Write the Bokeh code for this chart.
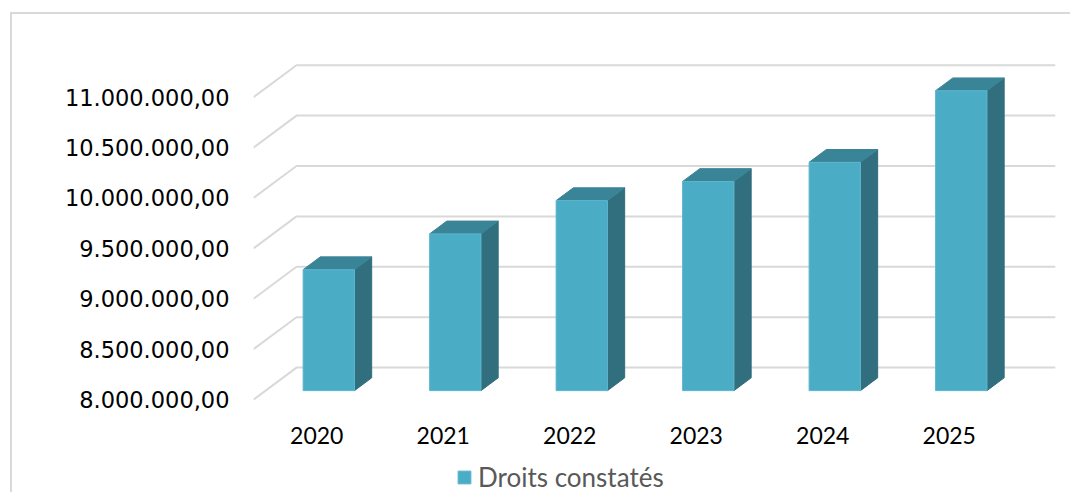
from bokeh.plotting import figure
from bokeh.models import Range1d, FixedTicker, Legend, LegendItem, ColumnDataSource
from bokeh.core.properties import value
from bokeh.embed import file_html
from bokeh.resources import INLINE

# ---- data ----
years = ["2020", "2021", "2022", "2023", "2024", "2025"]
values = [9200000, 9555000, 9885000, 10075000, 10265000, 10975000]
y_ticks = [8000000, 8500000, 9000000, 9500000, 10000000, 10500000, 11000000]
y_tick_labels = ["8.000.000,00", "8.500.000,00", "9.000.000,00", "9.500.000,00",
                 "10.000.000,00", "10.500.000,00", "11.000.000,00"]
series_name = "Droits constatés"

# ---- 3D style constants ----
BASE = 8000000
Y_MIN = 7058500
Y_MAX = 11364000
DEPTH_X = 0.34       # wall depth in category units
DEPTH_Y = 317500     # wall depth in value units
BAR_W = 0.406
BAR_Z0 = 0.28        # bar front position (fraction of depth)
BAR_ZD = 0.40        # bar depth (fraction of depth)

FRONT = "#4BACC6"
TOP = "#3A8498"
SIDE = "#316E7E"
GRID = "#D9D9D9"

n = len(years)
p = figure(width=1060, height=480,
           x_range=Range1d(-0.5, n - 0.5 + DEPTH_X),
           y_range=Range1d(Y_MIN, Y_MAX),
           output_backend="svg", toolbar_location=None,
           min_border_left=241, min_border_right=17,
           min_border_top=46, min_border_bottom=0)
p.styles = {"margin-left": "10px", "margin-top": "12px",
            "border-left": "2px solid #D9D9D9", "border-top": "2px solid #D9D9D9"}
p.outline_line_color = None
p.grid.visible = False
p.background_fill_color = "white"
p.border_fill_color = "white"
p.xaxis.visible = False

# gridlines (floor edge diagonal + back wall)
gx = [[-0.5, -0.5 + DEPTH_X, n - 0.5 + DEPTH_X] for _ in y_ticks]
gy = [[v, v + DEPTH_Y, v + DEPTH_Y] for v in y_ticks]
p.multi_line(gx, gy, line_color=GRID, line_width=2)

# bars
z0x, z0y = BAR_Z0 * DEPTH_X, BAR_Z0 * DEPTH_Y
dx, dy = BAR_ZD * DEPTH_X, BAR_ZD * DEPTH_Y
left = [i - BAR_W / 2 + z0x for i in range(n)]
right = [l + BAR_W for l in left]
bottom = [BASE + z0y] * n
top = [v + z0y for v in values]

side_xs = [[r, r + dx, r + dx, r] for r in right]
side_ys = [[b, b + dy, t + dy, t] for b, t in zip(bottom, top)]
top_xs = [[l, r, r + dx, l + dx] for l, r in zip(left, right)]
top_ys = [[t, t, t + dy, t + dy] for t in top]

p.patches(side_xs, side_ys, fill_color=SIDE, line_color=SIDE, line_width=1)
p.patches(top_xs, top_ys, fill_color=TOP, line_color=TOP, line_width=1)
src = ColumnDataSource(dict(left=left, right=right, bottom=bottom, top=top, year=years, value=values))
front = p.quad(left="left", right="right", bottom="bottom", top="top", source=src,
               fill_color=FRONT, line_color="#5DB6CE", line_width=1)

# category labels along the front floor edge
p.text(x=list(range(n)), y=[BASE] * n, text=years,
       text_align="center", text_baseline="alphabetic", y_offset=36,
       text_font=value("Lato"), text_font_size="23px", text_color="#000000")

# value axis
ya = p.yaxis[0]
ya.ticker = FixedTicker(ticks=y_ticks)
ya.major_label_overrides = {v: s for v, s in zip(y_ticks, y_tick_labels)}
ya.axis_line_color = None
ya.major_tick_line_color = None
ya.minor_tick_line_color = None
ya.major_tick_out = 0
ya.major_tick_in = 0
ya.major_label_standoff = 24
ya.major_label_text_font = "DejaVu Sans"
ya.major_label_text_font_size = "22.5px"
ya.major_label_text_color = "#000000"

legend = Legend(items=[LegendItem(label=series_name, renderers=[front])],
                location=(203, 1), orientation="horizontal",
                padding=0, margin=0, spacing=0,
                glyph_width=16, glyph_height=16, label_standoff=6,
                label_text_font="Lato", label_text_font_size="26px",
                label_text_color="#595959",
                border_line_color=None, background_fill_alpha=0)
p.add_layout(legend)

open("out.html", "w").write(file_html(p, INLINE))
